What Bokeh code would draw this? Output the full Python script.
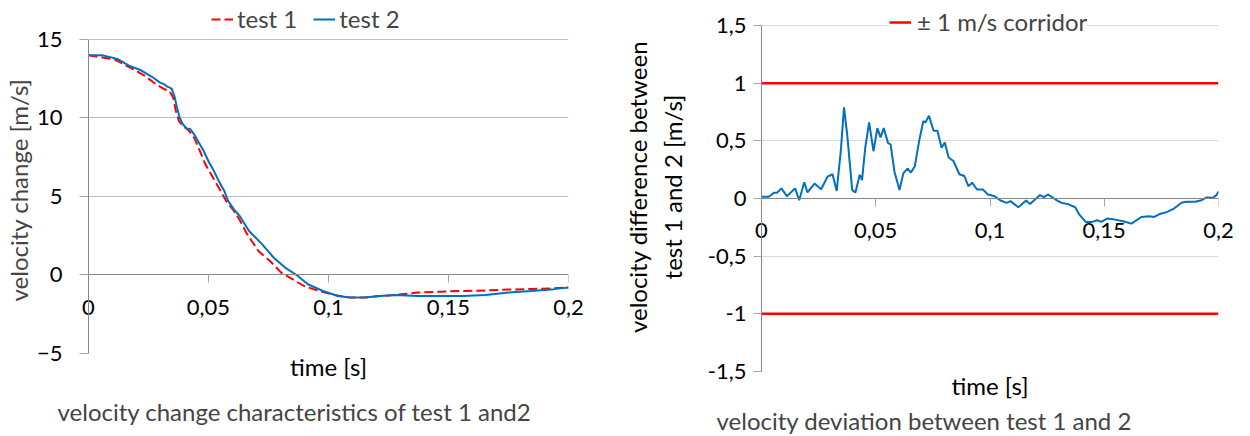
from bokeh.plotting import figure
from bokeh.models import (Range1d, FixedTicker, CustomJSTickFormatter, Legend,
                          LegendItem, LinearAxis, Title)
from bokeh.layouts import row
from bokeh.embed import file_html
from bokeh.resources import INLINE

FONT = "Lato"
FS = "24px"
TFS = "22px"
BLUE = "#0070C0"
RED = "#FF0000"

# ---------------- data: left chart ----------------
test1_time = [0, 0.0108, 0.0187, 0.0235, 0.0282, 0.0317, 0.0337, 0.0353, 0.0364,
              0.0377, 0.0393, 0.0414, 0.044, 0.0464, 0.0487, 0.0511, 0.0543, 0.0574,
              0.0606, 0.063, 0.0661, 0.0708, 0.0756, 0.0803, 0.0851, 0.0898, 0.0961,
              0.1024, 0.1088, 0.115, 0.1214, 0.1277, 0.1372, 0.1466, 0.156, 0.1655,
              0.175, 0.1846, 0.194, 0.2]
test1_vel = [14.0, 13.73, 13.1, 12.68, 12.14, 11.83, 11.72, 11.3, 10.45,
             9.8, 9.5, 9.26, 8.75, 7.9, 7.05, 6.41, 5.56, 4.71,
             4.08, 3.5, 2.6, 1.53, 0.89, 0.15, -0.28, -0.7, -1.02,
             -1.27, -1.44, -1.44, -1.34, -1.27, -1.12, -1.06, -1.02, -0.98,
             -0.93, -0.89, -0.85, -0.8]

test2_time = [0, 0.006, 0.0124, 0.0172, 0.0219, 0.0266, 0.0298, 0.0317, 0.0327,
              0.0337, 0.0347, 0.0358, 0.0369, 0.038, 0.0393, 0.0409, 0.0424, 0.044,
              0.0456, 0.048, 0.0503, 0.0519, 0.0543, 0.0566, 0.0582, 0.0606, 0.063,
              0.0669, 0.0724, 0.0772, 0.0819, 0.0867, 0.0914, 0.0977, 0.104, 0.1088,
              0.115, 0.1214, 0.1277, 0.1372, 0.1466, 0.156, 0.1655, 0.175, 0.1846,
              0.194, 0.2]
test2_vel = [14.0, 13.99, 13.74, 13.31, 13.04, 12.61, 12.25, 12.14, 12.0,
             11.95, 11.85, 11.40, 10.66, 10.02, 9.6, 9.34, 9.3, 8.96,
             8.54, 7.9, 7.15, 6.73, 5.99, 5.35, 4.71, 4.18, 3.76,
             2.80, 1.95, 1.1, 0.47, 0.0, -0.59, -1.02, -1.34, -1.44,
             -1.44, -1.34, -1.27, -1.34, -1.34, -1.34, -1.27, -1.12, -1.02,
             -0.9, -0.8]

# ---------------- data: right chart ----------------
diff_time = [0, 0.0032, 0.0054, 0.0068, 0.0087, 0.0111, 0.0147, 0.0165, 0.0187,
             0.0201, 0.0232, 0.0261, 0.0289, 0.0311, 0.0329, 0.0347, 0.0361, 0.0375,
             0.0397, 0.0411, 0.0430, 0.0440, 0.0454, 0.0471, 0.0490, 0.0507, 0.0521,
             0.0535, 0.0554, 0.0565, 0.0582, 0.0604, 0.0621, 0.0640, 0.0654, 0.0671,
             0.0690, 0.0708, 0.0718, 0.0733, 0.0753, 0.0770, 0.0788, 0.0802, 0.0819,
             0.0840, 0.0866, 0.0888, 0.0905, 0.0922, 0.0943, 0.0969, 0.0991, 0.1020,
             0.1046, 0.1072, 0.1090, 0.1124, 0.1158, 0.1175, 0.1219, 0.1236, 0.1253,
             0.1287, 0.1313, 0.1339, 0.1373, 0.1391, 0.1419, 0.1447, 0.1469, 0.1487,
             0.1512, 0.1547, 0.1583, 0.1619, 0.1662, 0.1697, 0.1719, 0.1740, 0.1776,
             0.1805, 0.1840, 0.1862, 0.1898, 0.1926, 0.1948, 0.1976, 0.1991, 0.2000]
diff_vel = [0.015, 0.015, 0.05, 0.05, 0.088, 0.02, 0.088, -0.015, 0.14,
            0.053, 0.13, 0.08, 0.19, 0.21, 0.065, 0.41, 0.79, 0.555,
            0.073, 0.053, 0.205, 0.16, 0.44, 0.66, 0.41, 0.61, 0.53,
            0.61, 0.48, 0.47, 0.23, 0.073, 0.22, 0.26, 0.225, 0.28,
            0.50, 0.67, 0.66, 0.718, 0.587, 0.587, 0.44, 0.485, 0.355,
            0.325, 0.21, 0.195, 0.107, 0.137, 0.078, 0.078, 0.035, 0.02,
            -0.017, -0.038, -0.023, -0.076, -0.017, -0.047, 0.03, 0.012, 0.035,
            -0.009, -0.038, -0.047, -0.076, -0.14, -0.203, -0.203, -0.189, -0.203,
            -0.174, -0.183, -0.198, -0.218, -0.16, -0.154, -0.16, -0.137, -0.116,
            -0.087, -0.035, -0.029, -0.029, -0.015, 0.009, 0.006, 0.029, 0.06]

corridor_time = [0, 0.2]
corridor_upper = [1, 1]
corridor_lower = [-1, -1]

x_ticks = [0, 0.05, 0.1, 0.15, 0.2]
left_y_ticks = [-5, 0, 5, 10, 15]
right_y_ticks = [-1.5, -1, -0.5, 0, 0.5, 1, 1.5]

comma_fmt = "return tick.toString().replace('.', ',');"


def style(p, grid_color, y_tick_out, y_standoff, x_standoff, x_title_standoff):
    p.outline_line_color = None
    p.xgrid.visible = False
    p.ygrid.grid_line_color = grid_color
    p.ygrid.grid_line_width = 1
    for ax in (p.xaxis[0], p.yaxis[0]):
        ax.major_label_text_font = FONT
        ax.major_label_text_font_size = TFS
        ax.major_label_text_color = "#000000"
        ax.minor_tick_line_color = None
        ax.major_tick_in = 0
        ax.major_tick_line_color = "#a6a6a6"
        ax.axis_line_color = "#868686"
        ax.axis_label_text_font = FONT
        ax.axis_label_text_font_size = FS
        ax.axis_label_text_font_style = "normal"
        ax.axis_label_text_color = "#000000"
    # main x axis: sits below the frame, labels lifted up to the zero line
    xa = p.xaxis[0]
    xa.ticker = FixedTicker(ticks=x_ticks)
    xa.formatter = CustomJSTickFormatter(code=comma_fmt)
    xa.axis_line_color = None
    xa.major_tick_out = 0
    xa.major_label_standoff = x_standoff
    xa.axis_label = "time [s]"
    xa.axis_label_standoff = x_title_standoff
    # zero line axis with ticks only
    zero = LinearAxis(fixed_location=0, ticker=FixedTicker(ticks=x_ticks),
                      axis_line_color="#868686", major_tick_line_color="#a6a6a6",
                      major_tick_in=0, major_tick_out=8, minor_tick_line_color=None,
                      major_label_text_font_size="0px", major_label_text_alpha=0)
    p.add_layout(zero, "below")
    ya = p.yaxis[0]
    ya.major_tick_out = y_tick_out
    ya.major_label_standoff = y_standoff


# ---------------- left chart ----------------
# frame reaches a little above 15 so that the legend above the chart stays visible
p1 = figure(width=620, height=436, x_range=Range1d(0, 0.2), y_range=Range1d(-5, 17.484),
            output_backend="svg", toolbar_location=None, frame_align=False,
            min_border_left=81, min_border_right=52, min_border_top=0, min_border_bottom=83)
r1 = p1.line(test1_time, test1_vel, line_color=RED, line_width=2, line_dash="9 4")
r2 = p1.line(test2_time, test2_vel, line_color=BLUE, line_width=2)
style(p1, "#bfbfbf", 9, 17, -54, 34)
p1.yaxis.ticker = FixedTicker(ticks=left_y_ticks)
p1.yaxis.bounds = (-5, 15)
p1.add_layout(Title(text="velocity change [m/s]", align="left", offset=52,
                    text_font=FONT, text_font_size=FS, text_font_style="normal",
                    standoff=2), "left")

leg1 = Legend(items=[LegendItem(label="test 1", renderers=[r1]),
                     LegendItem(label="test 2", renderers=[r2])],
              orientation="horizontal", location=(123, 320),
              label_text_font=FONT, label_text_font_size=FS,
              glyph_width=22, glyph_height=20, label_standoff=4, spacing=16,
              padding=0, margin=0, background_fill_alpha=0, border_line_color=None)
p1.add_layout(leg1)
p1.add_layout(Title(text="velocity change characteristics of test 1 and2", align="left",
                    offset=-31, text_font=FONT, text_font_size=FS,
                    text_font_style="normal", standoff=22), "below")

# ---------------- right chart ----------------
# frame reaches a little above 1.5 so the legend that sits on the top gridline stays visible
p2 = figure(width=614, height=436, x_range=Range1d(0, 0.2), y_range=Range1d(-1.5, 1.6994),
            output_backend="svg", toolbar_location=None, frame_align=False,
            min_border_left=129, min_border_right=16, min_border_top=2, min_border_bottom=65)
c_hi = p2.line(corridor_time, corridor_upper, line_color=RED, line_width=2.5)
p2.line(corridor_time, corridor_lower, line_color=RED, line_width=2.5)
p2.line(diff_time, diff_vel, line_color=BLUE, line_width=2)
style(p2, "#d9d9d9", 8, 7, -149, 130)
p2.yaxis.ticker = FixedTicker(ticks=right_y_ticks)
p2.yaxis.bounds = (-1.5, 1.5)
p2.yaxis.formatter = CustomJSTickFormatter(code=comma_fmt)
p2.yaxis.axis_label = "velocity difference between\ntest 1 and 2 [m/s]"
p2.yaxis.axis_label_standoff = 18

leg2 = Legend(items=[LegendItem(label="± 1 m/s corridor", renderers=[c_hi])],
              orientation="horizontal", location=(128, 335),
              label_text_font=FONT, label_text_font_size=FS,
              glyph_width=22, glyph_height=20, label_standoff=6,
              padding=6, margin=0, background_fill_color="white", background_fill_alpha=1,
              border_line_color=None)
p2.add_layout(leg2)
p2.add_layout(Title(text="velocity deviation between test 1 and 2", align="left",
                    offset=-45, text_font=FONT, text_font_size=FS,
                    text_font_style="normal", standoff=3), "below")

layout = row(p1, p2)
open("out.html", "w").write(file_html(layout, INLINE))
